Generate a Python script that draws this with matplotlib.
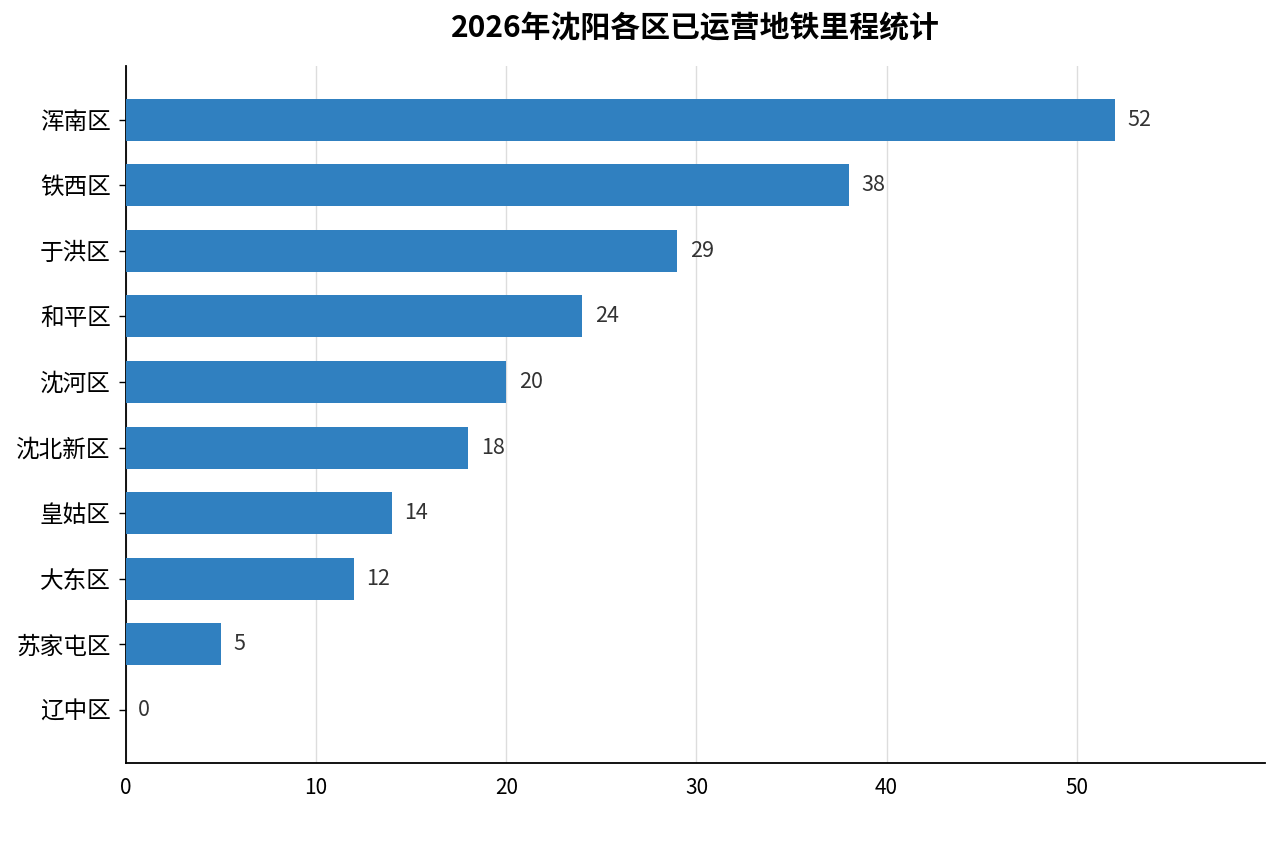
import matplotlib
matplotlib.use("Agg")
import matplotlib.pyplot as plt

plt.rcParams['font.family'] = ['Noto Sans CJK SC', 'DejaVu Sans']

districts = ["浑南区", "铁西区", "于洪区", "和平区", "沈河区", "沈北新区", "皇姑区", "大东区", "苏家屯区", "辽中区"]
mileage = [52, 38, 29, 24, 20, 18, 14, 12, 5, 0]
title = "2026年沈阳各区已运营地铁里程统计"

fig = plt.figure(figsize=(12.8, 8.48), dpi=100)
ax = fig.add_axes([126/1280, 1-763/848, (1265-126)/1280, (763-66)/848])

ypos = list(range(len(districts)))
ax.barh(ypos, mileage, height=0.64, color="#3080C0", zorder=3)
ax.set_yticks(ypos)
ax.set_yticklabels(districts, fontsize=17)
ax.invert_yaxis()
ax.set_ylim(len(districts) - 1 + 0.81, -0.82)
ax.set_xlim(0, 59.9)
ax.set_xticks([0, 10, 20, 30, 40, 50])
ax.tick_params(axis='x', labelsize=15, length=0, pad=10)
ax.tick_params(axis='y', length=5, width=1, pad=6)

for y, v in zip(ypos, mileage):
    ax.text(v + 0.65, y, str(v), va='center', ha='left', fontsize=15.5, color="#333333")

ax.grid(axis='x', color="#dddddd", linewidth=1, zorder=0)
ax.set_axisbelow(True)
for s in ['top', 'right']:
    ax.spines[s].set_visible(False)
for s in ['left', 'bottom']:
    ax.spines[s].set_linewidth(1.3)
    ax.spines[s].set_color("black")

fig.text(695/1280, 1-28/848, title, ha='center', va='center', fontsize=21.5, fontweight='bold')

fig.savefig("out.png", dpi=100)
